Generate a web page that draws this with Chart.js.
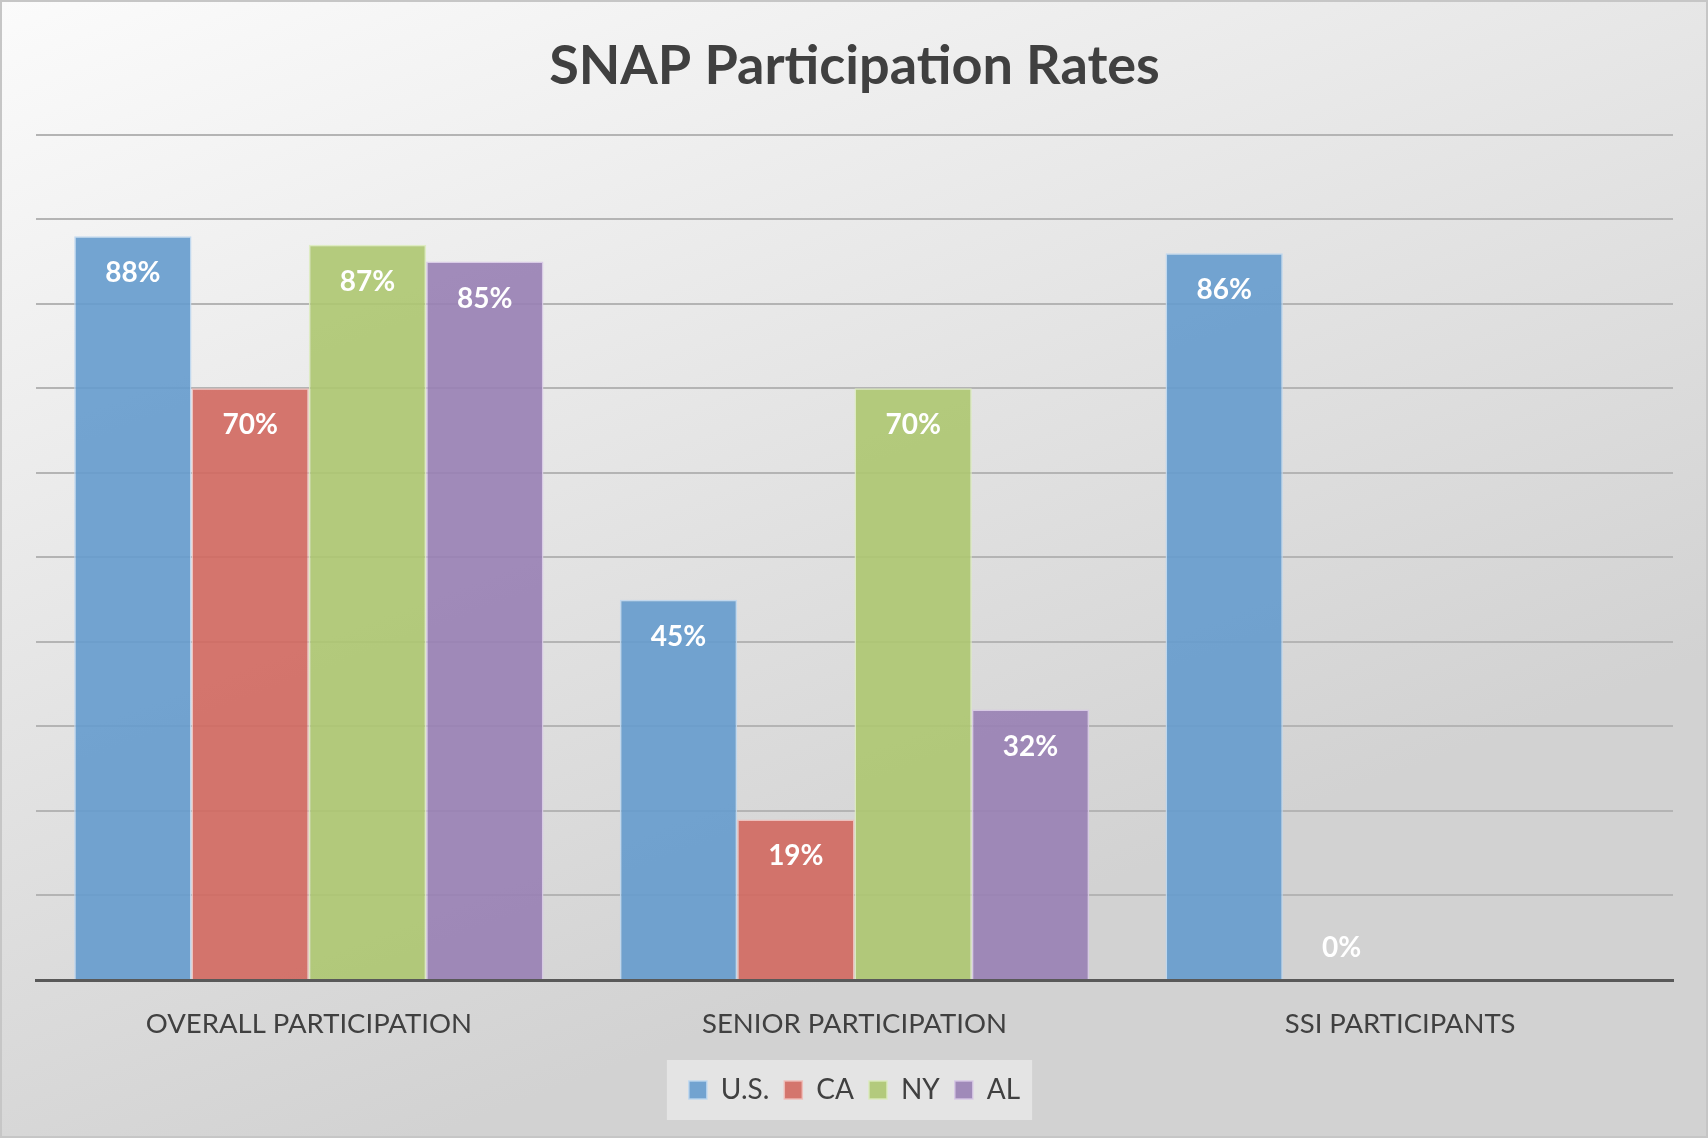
<!DOCTYPE html>
<html>
<head>
<meta charset="utf-8">
<script src="https://cdn.jsdelivr.net/npm/chart.js@4.4.1/dist/chart.umd.min.js"></script>
<style>
  html, body { margin: 0; padding: 0; background: #ffffff; }
  #wrap { width: 1708px; height: 1138px; position: relative; }
</style>
</head>
<body>
<div id="wrap"><canvas id="snapChart"></canvas></div>
<script>
// data
const categories = ['OVERALL PARTICIPATION', 'SENIOR PARTICIPATION', 'SSI PARTICIPANTS'];
const seriesNames = ['U.S.', 'CA', 'NY', 'AL'];
const usValues = [88, 45, 86];
const caValues = [70, 19, 0];
const nyValues = [87, 70, null];
const alValues = [85, 32, null];
const yMin = 0;
const yMax = 100;
const yStep = 10;

const fills = ['rgba(101,155,205,0.9)', 'rgba(210,104,95,0.9)', 'rgba(173,199,112,0.9)', 'rgba(152,128,180,0.9)'];
const edges = ['rgba(190,215,240,0.9)', 'rgba(240,190,185,0.9)', 'rgba(220,235,190,0.9)', 'rgba(215,200,230,0.9)'];

const FONT = "Lato, 'Open Sans', sans-serif";

// background gradient, frame and the grey box behind the legend
const backdrop = {
  id: 'backdrop',
  beforeDraw(chart) {
    const c = chart.ctx;
    const w = chart.width, h = chart.height;
    c.save();
    const g = c.createLinearGradient(0, 0, w * 0.25, h);
    g.addColorStop(0, '#fbfbfb');
    g.addColorStop(1, '#d2d2d2');
    c.fillStyle = g;
    c.fillRect(0, 0, w, h);
    c.strokeStyle = '#c6c6c6';
    c.lineWidth = 2;
    c.strokeRect(1, 1, w - 2, h - 2);

    const boxes = chart.legend && chart.legend.legendHitBoxes;
    if (boxes && boxes.length) {
      let l = Infinity, r = -Infinity, t = Infinity, b = -Infinity;
      boxes.forEach(hb => {
        l = Math.min(l, hb.left); r = Math.max(r, hb.left + hb.width);
        t = Math.min(t, hb.top); b = Math.max(b, hb.top + hb.height);
      });
      const mid = (t + b) / 2;
      c.fillStyle = 'rgba(232,232,232,0.85)';
      c.fillRect(l - 22, mid - 30, (r - l) + 34, 60);
    }
    c.restore();
  }
};

// white value labels at the inside end of each bar
const barLabels = {
  id: 'barLabels',
  afterDatasetsDraw(chart) {
    const c = chart.ctx;
    c.save();
    c.font = "bold 28px " + FONT;
    c.fillStyle = '#ffffff';
    c.textAlign = 'center';
    c.textBaseline = 'middle';
    chart.data.datasets.forEach((ds, i) => {
      const meta = chart.getDatasetMeta(i);
      meta.data.forEach((bar, j) => {
        const v = ds.data[j];
        if (v === null || v === undefined) return;
        const y = v === 0 ? bar.y - 32 : bar.y + 37;
        c.fillText(v + '%', bar.x, y);
      });
    });
    c.restore();
  }
};

const datasets = [usValues, caValues, nyValues, alValues].map((vals, i) => ({
  label: seriesNames[i],
  data: vals,
  backgroundColor: fills[i],
  borderColor: edges[i],
  borderWidth: 1.5,
  borderSkipped: 'bottom',
  categoryPercentage: 0.86,
  barPercentage: 1.0
}));

new Chart(document.getElementById('snapChart'), {
  type: 'bar',
  data: { labels: categories, datasets: datasets },
  plugins: [backdrop, barLabels],
  options: {
    responsive: true,
    maintainAspectRatio: false,
    animation: false,
    layout: { padding: { left: 36, right: 35, top: 0, bottom: 24 } },
    plugins: {
      title: {
        display: true,
        text: 'SNAP Participation Rates',
        color: '#404040',
        font: { family: FONT, size: 54, weight: 'bold' },
        padding: { top: 34, bottom: 36 }
      },
      legend: {
        position: 'bottom',
        labels: {
          color: '#404040',
          font: { family: FONT, size: 28 },
          boxWidth: 18,
          boxHeight: 18,
          padding: 15
        }
      },
      tooltip: { enabled: false }
    },
    scales: {
      x: {
        grid: { display: false, drawTicks: false },
        border: { display: true, color: '#595959', width: 3 },
        ticks: {
          color: '#404040',
          font: { family: FONT, size: 27.5 },
          padding: 28
        },
        // let the plot reach further down; labels hang into the legend's top padding
        afterFit(scale) { scale.height -= 8; }
      },
      y: {
        min: yMin,
        max: yMax,
        ticks: { display: false, stepSize: yStep },
        grid: { color: '#b4b4b4', lineWidth: 2, drawTicks: false },
        border: { display: false }
      }
    }
  }
});
</script>
</body>
</html>
